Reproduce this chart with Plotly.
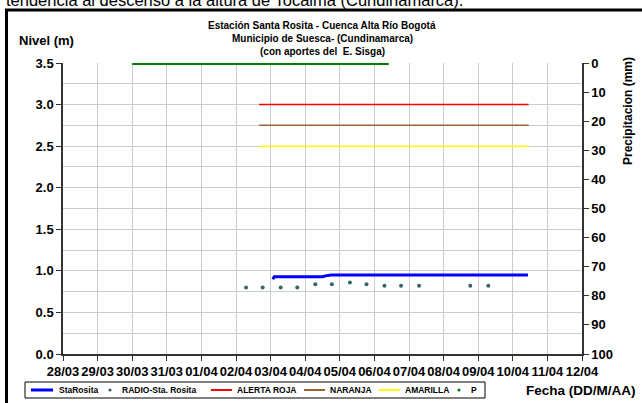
import plotly.graph_objects as go

# ---------------- data ----------------
x_range = ["2011-03-28", "2011-04-12"]

sta_dates = ["2011-04-03 01:30", "2011-04-03 02:30", "2011-04-04 12:00",
             "2011-04-04 14:00", "2011-04-04 18:00", "2011-04-10 10:30"]
sta_level = [0.90, 0.93, 0.93, 0.94, 0.95, 0.95]

radio_dates = ["2011-04-02 07:00", "2011-04-02 18:30", "2011-04-03 07:00",
               "2011-04-03 18:30", "2011-04-04 07:00", "2011-04-04 18:30",
               "2011-04-05 07:00", "2011-04-05 18:30", "2011-04-06 07:00",
               "2011-04-06 18:30", "2011-04-07 07:00", "2011-04-08 18:30",
               "2011-04-09 07:00"]
radio_level = [0.80, 0.80, 0.80, 0.80, 0.84, 0.84, 0.86, 0.84, 0.82,
               0.82, 0.82, 0.82, 0.82]

alert_dates = ["2011-04-02 16:00", "2011-04-10 11:00"]
alert_roja = [3.0, 3.0]
alert_naranja = [2.75, 2.75]
alert_amarilla = [2.5, 2.5]

p_dates = ["2011-03-30 00:00", "2011-04-06 10:00"]
p_mm = [0, 0]

series_names = ["StaRosita", "RADIO-Sta. Rosita", "ALERTA ROJA", "NARANJA",
                "AMARILLA", "P"]
series_colors = ["#0000ff", "#336666", "#ff0000", "#996633", "#ffff00", "#008000"]

title_lines = ["Estación Santa Rosita - Cuenca Alta Río Bogotá",
               "Municipio de Suesca- (Cundinamarca)",
               "(con aportes del  E. Sisga)"]

FONT = "Liberation Sans, Arial, sans-serif"

fig = go.Figure()
fig.add_trace(go.Scatter(x=sta_dates, y=sta_level, mode="lines", name=series_names[0],
                         line=dict(color=series_colors[0], width=3)))
fig.add_trace(go.Scatter(x=radio_dates, y=radio_level, mode="markers",
                         name=series_names[1],
                         marker=dict(color=series_colors[1], size=4)))
fig.add_trace(go.Scatter(x=alert_dates, y=alert_roja, mode="lines", name=series_names[2],
                         line=dict(color=series_colors[2], width=1.5)))
fig.add_trace(go.Scatter(x=alert_dates, y=alert_naranja, mode="lines", name=series_names[3],
                         line=dict(color=series_colors[3], width=1.5)))
fig.add_trace(go.Scatter(x=alert_dates, y=alert_amarilla, mode="lines", name=series_names[4],
                         line=dict(color=series_colors[4], width=1.5)))
fig.add_trace(go.Scatter(x=p_dates, y=p_mm, mode="lines", name=series_names[5], yaxis="y2",
                         line=dict(color=series_colors[5], width=4)))

tickfont = dict(family=FONT, size=13, color="black", weight="bold")

fig.update_layout(
    width=642, height=403,
    margin=dict(l=63, r=60, t=63, b=49, autoexpand=False),
    paper_bgcolor="white", plot_bgcolor="white",
    showlegend=False,
    xaxis=dict(type="date", range=x_range, dtick=86400000, tickformat="%d/%m",
               tickangle=0,
               showgrid=True, gridcolor="#cccccc", gridwidth=1,
               showline=True, linecolor="#333333", linewidth=1.5,
               ticks="outside", ticklen=5, tickcolor="#333333",
               tickfont=tickfont, zeroline=False, automargin=False),
    yaxis=dict(range=[0, 3.5], dtick=0.5, tickformat=".1f",
               showgrid=True, gridcolor="#cccccc", gridwidth=1,
               minor=dict(dtick=0.25, showgrid=True, gridcolor="#cccccc"),
               showline=True, linecolor="#333333", linewidth=1.5,
               ticks="outside", ticklen=5, tickcolor="#333333",
               tickfont=tickfont, zeroline=False, automargin=False),
    yaxis2=dict(range=[100, 0], dtick=10, overlaying="y", side="right",
                showgrid=False, showline=True, linecolor="#333333", linewidth=1.5,
                ticks="outside", ticklen=5, tickcolor="#333333",
                tickfont=tickfont, zeroline=False, automargin=False),
)

def px_x(px):
    return (px - 63) / 519.0

def px_y(py):
    return (354 - py) / 291.0

bold = dict(family=FONT, color="black", weight="bold")
annos = []
for line, ty in zip(title_lines, [25, 38.5, 51.5]):
    annos.append(dict(text=line, x=px_x(322), y=px_y(ty), xanchor="center",
                      yanchor="middle", font=dict(bold, size=10)))
annos += [
    dict(text="Nivel (m)", x=px_x(17), y=px_y(40), xanchor="left", yanchor="middle",
         font=dict(bold, size=13)),
    dict(text="Precipitacion (mm)", x=px_x(628), y=px_y(111), xanchor="center",
         yanchor="middle", textangle=-90, font=dict(bold, size=12)),
    dict(text="Fecha (DD/M/AA)", x=px_x(524), y=px_y(390), xanchor="left",
         yanchor="middle", font=dict(bold, size=13.5)),
    dict(text="tendencia al descenso a la altura de Tocaima (Cundinamarca).",
         x=px_x(4), y=px_y(0), xanchor="left", yanchor="middle",
         font=dict(family=FONT, size=16.5, color="black")),
]

# ---- hand-placed legend (compact, like the original) ----
legend_y = 390
leg_box = (25, 485, 382, 398)
symbol_x = [(31, 53), (110, 110), (211, 232), (304, 325), (379, 400), (459, 459)]
text_x = [57, 120, 235, 328, 403, 469]
symbol_w = [3, 0, 2, 2, 2, 0]

shapes = [dict(type="rect", xref="paper", yref="paper",
               x0=px_x(leg_box[0]), x1=px_x(leg_box[1]),
               y0=px_y(leg_box[3]), y1=px_y(leg_box[2]),
               line=dict(color="black", width=1), fillcolor="white")]
for name, col, (sx0, sx1), tx, w in zip(series_names, series_colors, symbol_x, text_x, symbol_w):
    if w > 0:
        shapes.append(dict(type="line", xref="paper", yref="paper",
                           x0=px_x(sx0), x1=px_x(sx1), y0=px_y(legend_y), y1=px_y(legend_y),
                           line=dict(color=col, width=w)))
    else:
        shapes.append(dict(type="circle", xref="paper", yref="paper",
                           x0=px_x(sx0 - 1.6), x1=px_x(sx0 + 1.6),
                           y0=px_y(legend_y + 1.6), y1=px_y(legend_y - 1.6),
                           line=dict(color=col, width=0), fillcolor=col))
    annos.append(dict(text=name, x=px_x(tx), y=px_y(legend_y), xanchor="left",
                      yanchor="middle", font=dict(bold, size=8.5)))

# outer black frame of the figure as embedded in the document
shapes.append(dict(type="rect", xref="paper", yref="paper",
                   x0=px_x(6.5), x1=px_x(700), y0=px_y(10), y1=px_y(450),
                   line=dict(color="black", width=3), fillcolor="rgba(0,0,0,0)",
                   layer="above"))

for a in annos:
    a.update(xref="paper", yref="paper", showarrow=False)
fig.update_layout(annotations=annos, shapes=shapes)

fig.write_html("out.html", config={"displayModeBar": False},
               post_script="document.body.style.margin='0';"
                           "document.body.style.overflow='hidden';")
